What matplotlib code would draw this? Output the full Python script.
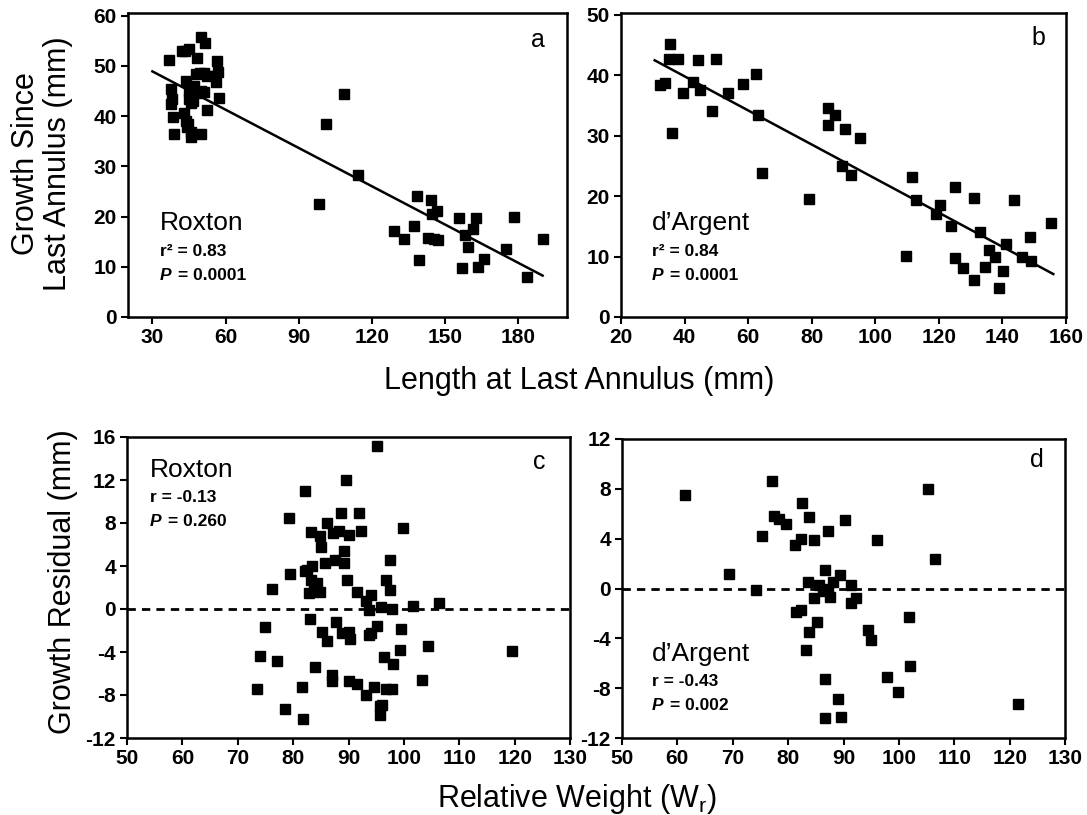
import numpy as np
import matplotlib.pyplot as plt

plt.rcParams['font.family'] = ['Liberation Sans', 'DejaVu Sans']
plt.rcParams['axes.unicode_minus'] = False

# Panel a: Roxton, length at last annulus vs growth since last annulus
rox_len = [36.8, 37.5, 38.2, 37.5, 38.6, 38.9, 42.3, 43.5, 45.0, 43.6, 43.0, 43.6, 44.3,
           45.7, 45.7, 44.5, 45.0, 45.7, 46.5, 45.0, 46.0, 48.1, 48.0, 49.5, 51.0, 52.5,
           49.8, 51.0, 48.5, 49.8, 49.8, 51.4, 52.5, 56.0, 56.6, 56.9, 57.3, 55.5, 47.0,
           98.2, 101.3, 108.4, 114.3, 138.5, 144.3, 146.6, 144.5, 129.2, 133.0, 137.1,
           139.4, 143.2, 145.3, 147.3, 155.9, 162.6, 161.6, 158.0, 159.6, 156.9, 163.7,
           166.0, 175.0, 178.4, 183.5, 190.0]
rox_growth = [51.1, 45.4, 43.4, 42.4, 39.8, 36.5, 52.9, 53.0, 53.4, 47.0, 40.5, 39.1, 37.8,
              36.8, 35.9, 38.5, 45.0, 44.1, 43.0, 43.4, 42.5, 51.6, 48.3, 48.5, 48.6, 48.0,
              45.0, 44.7, 44.5, 36.5, 55.8, 54.5, 41.1, 46.7, 50.9, 48.8, 43.6, 48.0, 46.0,
              22.4, 38.4, 44.3, 28.2, 24.1, 23.2, 21.1, 20.4, 17.1, 15.5, 18.2,
              11.4, 15.8, 15.6, 15.3, 19.7, 19.7, 17.6, 16.4, 13.9, 9.7, 10.0,
              11.5, 13.5, 19.9, 7.9, 15.6]
rox_fit = (56.5, -0.254)      # intercept, slope
rox_fit_range = (30, 190)

# Panel b: d'Argent
arg_len = [32.2, 33.7, 35.1, 35.3, 38.0, 36.2, 39.6, 42.7, 44.3, 45.0, 48.5, 49.8, 53.8,
           58.3, 62.6, 63.1, 64.5, 79.3, 85.0, 85.0, 87.4, 90.5, 95.3, 89.5, 92.4, 109.8,
           111.6, 112.7, 119.1, 120.4, 123.7, 125.2, 125.1, 127.7, 130.9, 131.2, 132.8,
           135.7, 134.4, 137.7, 138.8, 140.1, 141.0, 143.6, 146.1, 148.7, 148.9, 155.3]
arg_growth = [38.4, 38.7, 42.7, 45.2, 42.7, 30.5, 37.1, 38.9, 42.5, 37.5, 34.1, 42.7, 37.0,
              38.5, 40.2, 33.5, 23.9, 19.6, 34.6, 31.8, 33.4, 31.1, 29.6, 25.0, 23.5, 10.1,
              23.2, 19.3, 17.0, 18.6, 15.1, 21.5, 9.7, 8.1, 6.2, 19.7, 14.1,
              11.1, 8.2, 10.0, 4.8, 7.6, 12.1, 19.3, 10.0, 13.2, 9.2, 15.6]
arg_fit = (51.1, -0.282)
arg_fit_range = (30.6, 156)

# Panel c: Roxton, relative weight vs growth residual
rox_wr = [95.1, 89.5, 82.2, 79.2, 88.7, 91.9, 86.1, 92.3, 88.2, 87.2, 83.3, 84.8, 90.1,
          99.9, 85.1, 89.2, 89.2, 87.5, 85.7, 97.5, 79.5, 82.2, 82.5, 83.4, 83.3, 84.3,
          89.8, 96.8, 76.2, 82.8, 83.7, 84.9, 91.6, 97.5, 94.1, 93.1, 93.7, 95.8, 97.9,
          101.7, 106.4, 83.1, 87.8, 74.9, 85.2, 88.9, 90.1, 95.1, 94.1, 93.7, 99.5, 86.1,
          90.2, 104.3, 99.3, 119.5, 74.1, 77.0, 96.5, 98.1, 84.0, 87.0, 87.0, 90.1, 91.6,
          103.3, 73.4, 81.6, 94.6, 96.7, 97.9, 93.2, 96.1, 95.7, 95.7, 78.6, 81.8]
rox_resid = [15.2, 12.0, 11.0, 8.5, 8.9, 8.9, 8.0, 7.3, 7.3, 7.1, 7.2, 6.8, 6.9,
             7.5, 5.8, 5.4, 4.3, 4.6, 4.3, 4.6, 3.3, 3.5, 3.6, 4.0, 2.7, 2.4,
             2.7, 2.7, 1.9, 1.5, 1.7, 1.6, 1.6, 1.8, 1.3, 0.7, -0.1, 0.2, 0.0,
             0.3, 0.6, -0.9, -1.2, -1.7, -2.1, -2.2, -2.1, -1.6, -2.2, -2.4, -1.9, -3.0,
             -2.8, -3.4, -3.8, -3.9, -4.4, -4.8, -4.5, -5.1, -5.4, -6.1, -6.7, -6.7, -7.0,
             -6.6, -7.4, -7.3, -7.3, -7.4, -7.4, -8.0, -8.9, -9.0, -9.9, -9.3, -10.2]

# Panel d: d'Argent
arg_wr = [61.4, 69.3, 74.2, 75.3, 77.1, 77.4, 78.4, 79.6, 81.3, 82.3, 82.5, 83.8, 84.6,
          87.2, 90.2, 96.1, 105.3, 106.6, 86.7, 89.4, 83.5, 85.5, 86.3, 87.2, 88.1, 91.4,
          92.3, 91.4, 87.6, 84.7, 81.5, 82.3, 85.2, 83.7, 83.2, 94.4, 95.0, 101.8, 102.0,
          97.9, 99.8, 86.6, 89.0, 86.6, 89.6, 121.5]
arg_resid = [7.5, 1.2, -0.1, 4.2, 8.6, 5.8, 5.6, 5.2, 3.5, 4.0, 6.9, 5.7, 3.9,
             4.6, 5.5, 3.9, 8.0, 2.4, 1.5, 1.1, 0.5, 0.3, -0.2, 0.0, 0.5, 0.3,
             -0.8, -1.2, -0.7, -0.8, -1.9, -1.7, -2.7, -3.5, -4.9, -3.3, -4.1, -2.3, -6.2,
             -7.1, -8.3, -7.3, -8.9, -10.4, -10.3, -9.3]

W, H = 1087, 815
fig = plt.figure(figsize=(W / 100, H / 100), dpi=100)


def make_axes(left, right, top, bottom):
    return fig.add_axes([left / W, 1 - bottom / H, (right - left) / W, (bottom - top) / H])


ax_a = make_axes(128, 567, 13, 317)
ax_b = make_axes(621, 1066, 13, 317)
ax_c = make_axes(127, 570, 437, 738)
ax_d = make_axes(622, 1065, 439, 738)

for ax in (ax_a, ax_b, ax_c, ax_d):
    for s in ax.spines.values():
        s.set_linewidth(1.8)
    ax.tick_params(direction='out', length=5, width=1.5, labelsize=15, pad=3)

mk = dict(marker='s', ms=7, color='black', ls='none')


def stats(ax, x, y_top, name, line1, line2):
    ax.text(x, y_top, name, transform=ax.transAxes, fontsize=19, va='center', ha='left')
    ax.text(x, y_top - 0.092, line1, transform=ax.transAxes, fontsize=12.5,
            fontweight='bold', va='center', ha='left')
    ax.text(x, y_top - 0.172, 'P', transform=ax.transAxes, fontsize=12.5,
            fontweight='bold', style='italic', va='center', ha='left')
    ax.annotate(line2, xy=(x, y_top - 0.172), xycoords='axes fraction',
                xytext=(13, 0), textcoords='offset points', fontsize=12.5,
                fontweight='bold', va='center', ha='left')


# a
ax_a.plot(rox_len, rox_growth, **mk)
xs = np.array(rox_fit_range)
ax_a.plot(xs, rox_fit[0] + rox_fit[1] * xs, color='black', lw=1.8)
ax_a.set_xlim(20, 200)
ax_a.set_ylim(0, 60.5)
ax_a.set_xticks(np.arange(30, 181, 30))
ax_a.set_yticks(np.arange(0, 61, 10))
ax_a.text(0.95, 0.91, 'a', transform=ax_a.transAxes, fontsize=18, ha='right', va='center')
stats(ax_a, 0.073, 0.309, 'Roxton', 'r² = 0.83', '= 0.0001')

# b
ax_b.plot(arg_len, arg_growth, **mk)
xs = np.array(arg_fit_range)
ax_b.plot(xs, arg_fit[0] + arg_fit[1] * xs, color='black', lw=1.8)
ax_b.set_xlim(20, 160)
ax_b.set_ylim(0, 50.3)
ax_b.set_xticks(np.arange(20, 161, 20))
ax_b.set_yticks(np.arange(0, 51, 10))
ax_b.text(0.953, 0.918, 'b', transform=ax_b.transAxes, fontsize=18, ha='right', va='center')
stats(ax_b, 0.070, 0.309, "d’Argent", 'r² = 0.84', '= 0.0001')

# c
ax_c.plot(rox_wr, rox_resid, **mk)
ax_c.axhline(0, color='black', lw=2, ls=(0, (3, 2.2)))
ax_c.set_xlim(50, 130)
ax_c.set_ylim(-12, 16)
ax_c.set_xticks(np.arange(50, 131, 10))
ax_c.set_yticks(np.arange(-12, 17, 4))
ax_c.text(0.944, 0.917, 'c', transform=ax_c.transAxes, fontsize=18, ha='right', va='center')
stats(ax_c, 0.052, 0.89, 'Roxton', 'r = -0.13', '= 0.260')

# d
ax_d.plot(arg_wr, arg_resid, **mk)
ax_d.axhline(0, color='black', lw=2, ls=(0, (3, 2.2)))
ax_d.set_xlim(50, 130)
ax_d.set_ylim(-12, 12)
ax_d.set_xticks(np.arange(50, 131, 10))
ax_d.set_yticks(np.arange(-12, 13, 4))
ax_d.text(0.953, 0.93, 'd', transform=ax_d.transAxes, fontsize=18, ha='right', va='center')
stats(ax_d, 0.068, 0.281, "d’Argent", 'r = -0.43', '= 0.002')

for ax in (ax_a, ax_b, ax_c, ax_d):
    for lab in ax.get_xticklabels() + ax.get_yticklabels():
        lab.set_fontweight('bold')

fig.text(42 / W, 1 - 164 / H, 'Growth Since\nLast Annulus (mm)', rotation=90,
         fontsize=22, ha='center', va='center', linespacing=1.1)
fig.text(63 / W, 1 - 582 / H, 'Growth Residual (mm)', rotation=90,
         fontsize=22, ha='center', va='center')
fig.text(579 / W, 1 - 381 / H, 'Length at Last Annulus (mm)', fontsize=22,
         ha='center', va='center')
fig.text(577 / W, 1 - 799 / H, 'Relative Weight (W$_\\mathregular{r}$)', fontsize=22,
         ha='center', va='center')

fig.savefig('out.png', dpi=100)
